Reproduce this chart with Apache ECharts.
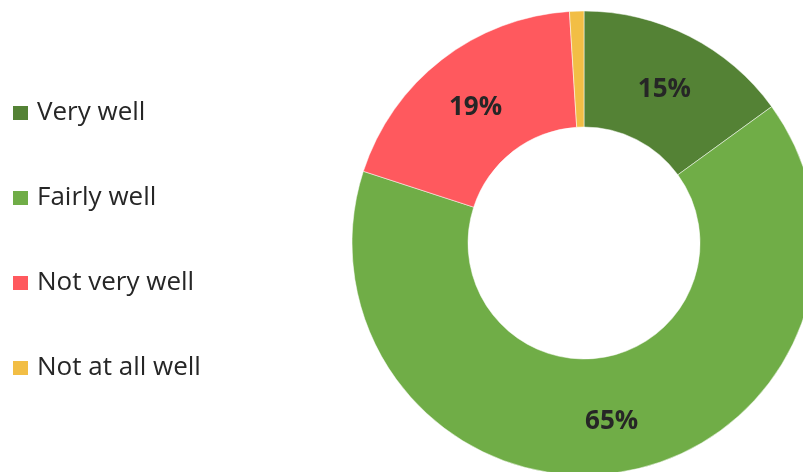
<!DOCTYPE html>
<html>
<head>
<meta charset="utf-8">
<script src="https://cdn.jsdelivr.net/npm/echarts@6/dist/echarts.min.js"></script>
<style>
  html, body { margin: 0; padding: 0; background: #fff; }
  #chart { width: 803px; height: 472px; }
</style>
</head>
<body>
<div id="chart"></div>
<script>
// Survey answers and their shares (percent)
const categories = ['Very well', 'Fairly well', 'Not very well', 'Not at all well'];
const shares = [15, 65, 19, 1];
const colors = ['#548235', '#70AD47', '#FF595E', '#F2BE45'];

const chart = echarts.init(document.getElementById('chart'));

const data = categories.map((name, i) => ({
  name: name,
  value: shares[i],
  itemStyle: { color: colors[i] },
  // the smallest slice is too thin to carry a label
  label: { show: shares[i] >= 5 }
}));

chart.setOption({
  animation: false,
  legend: {
    orient: 'vertical',
    left: 6,
    top: 93,
    padding: 5,
    itemWidth: 17,
    itemHeight: 16,
    itemGap: 55,
    icon: 'rect',
    textStyle: {
      fontFamily: 'Open Sans',
      fontSize: 26,
      color: '#262626',
      lineHeight: 30,
      padding: [0, 0, 0, 3]
    },
    data: categories
  },
  series: [{
    type: 'pie',
    center: [584, 243],
    radius: [116, 232],
    startAngle: 90,
    clockwise: true,
    avoidLabelOverlap: false,
    itemStyle: { borderColor: '#ffffff', borderWidth: 0.5 },
    label: {
      position: 'inside',
      formatter: '{c}%',
      fontFamily: 'Open Sans',
      fontWeight: 'bold',
      fontSize: 26,
      color: '#262626',
      offset: [0, 4]
    },
    labelLine: { show: false },
    emphasis: { disabled: true },
    data: data
  }]
});
</script>
</body>
</html>
